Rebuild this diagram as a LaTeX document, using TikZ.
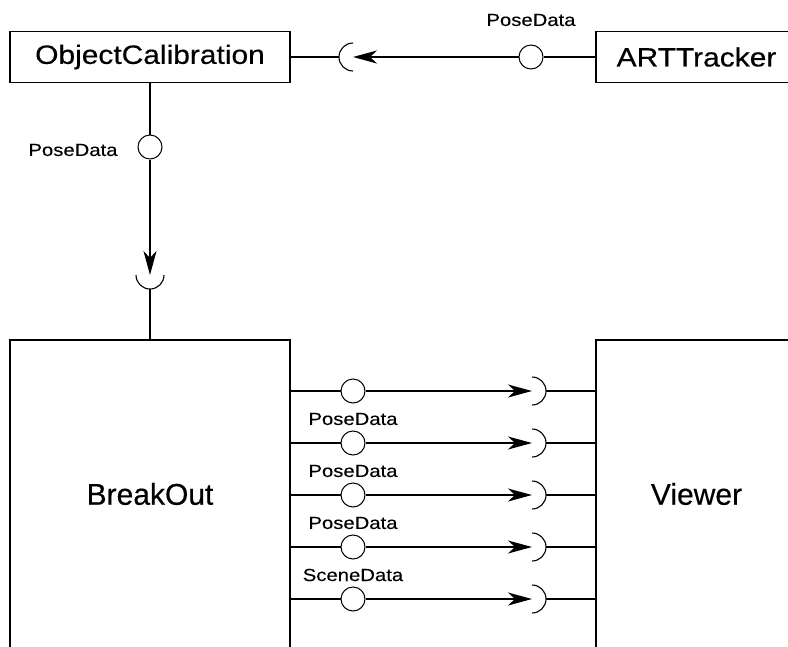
\documentclass[tikz,border=0pt]{standalone}
\usepackage{fontspec}
\setmainfont{Liberation Sans}
\newfontfamily\topfont[FakeStretch=1.13,FakeBold=0.4]{Liberation Sans}
\newfontfamily\lowfont[FakeBold=0.4]{Liberation Sans}
\newfontfamily\lblfont[FakeStretch=1.16,FakeBold=0.2]{Liberation Sans}
\usetikzlibrary{arrows.meta}
\begin{document}
\begin{tikzpicture}[x=1pt,y=1pt,
  line width=1.2pt,
  blk/.style={draw, line width=1.4pt, rectangle, inner sep=0pt},
  topblk/.style={blk, minimum height=51pt, font=\topfont\fontsize{26.5}{30}\selectfont},
  lowblk/.style={blk, minimum height=308pt, font=\lowfont\fontsize{30}{34}\selectfont},
  ball/.style={draw, circle, line width=1pt, minimum size=24pt, inner sep=0pt, fill=white},
  sock/.style={line width=1.1pt},
  lbl/.style={font=\lblfont\fontsize{17.5}{20}\selectfont, inner sep=0pt},
  flow/.style={-{Stealth[length=24pt,width=13pt,inset=7pt]}}]
\useasboundingbox (0,0) rectangle (788,-646);
\clip (0,0) rectangle (788,-646);

% components
\node[topblk, minimum width=280pt] (oc) at (150,-57) {ObjectCalibration};
\node[topblk, minimum width=201pt] (art) at (696.5,-57) {ARTTracker};
\node[lowblk, minimum width=280pt] (bo) at (150,-494) {BreakOut};
\node[lowblk, minimum width=201pt] (vw) at (696.5,-494) {Viewer};

% ARTTracker -> ObjectCalibration
\node[ball] (b0) at (531,-57) {};
\coordinate (s0) at (353,-57);
\node[lbl] (l0) at (531,-20) {PoseData};
\draw (b0.east) -- (art.west);
\draw[flow] (b0.west) -- (s0);
\draw[sock] ([yshift=14pt]s0) arc[start angle=90, end angle=270, radius=14pt];
\draw (oc.east) -- ([xshift=-14pt]s0);

% ObjectCalibration -> BreakOut
\node[ball] (bv) at (150,-147) {};
\coordinate (sv) at (150,-275);
\node[lbl] (lv) at (73,-150) {PoseData};
\draw (oc.south) -- (bv.north);
\draw[flow] (bv.south) -- (sv);
\draw[sock] ([xshift=-14pt]sv) arc[start angle=180, end angle=360, radius=14pt];
\draw ([yshift=-14pt]sv) -- (bo.north);

% BreakOut -> Viewer
\foreach \i/\y in {1/391, 2/443, 3/495, 4/547, 5/599} {
  \node[ball] (b\i) at (353,-\y) {};
  \coordinate (s\i) at (532,-\y);
  \draw (bo.east |- b\i) -- (b\i.west);
  \draw[flow] (b\i.east) -- (s\i);
  \draw[sock] ([yshift=-14pt]s\i) arc[start angle=-90, end angle=90, radius=14pt];
  \draw ([xshift=14pt]s\i) -- (vw.west |- s\i);
}
\node[lbl] (l2) at (353,-419) {PoseData};
\node[lbl] (l3) at (353,-471) {PoseData};
\node[lbl] (l4) at (353,-523) {PoseData};
\node[lbl] (l5) at (353,-575) {SceneData};
\end{tikzpicture}
\end{document}
